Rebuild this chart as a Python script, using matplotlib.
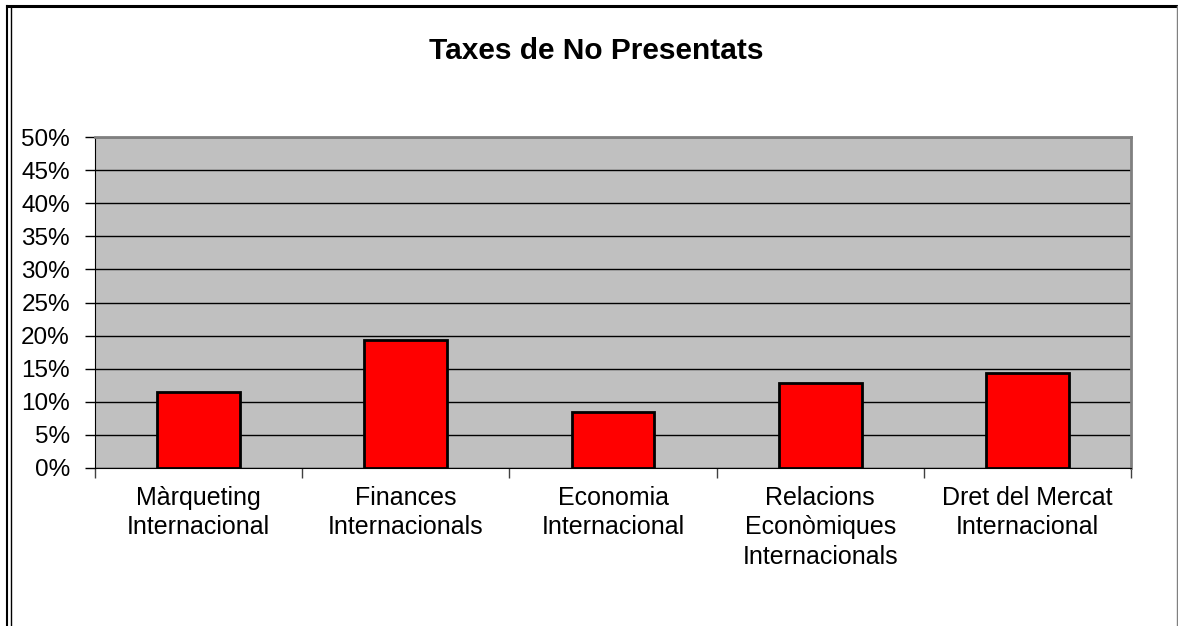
import numpy as np
import matplotlib
matplotlib.use("Agg")
import matplotlib.pyplot as plt
from matplotlib.lines import Line2D
from matplotlib.ticker import PercentFormatter

plt.rcParams['font.family'] = ['Liberation Sans', 'DejaVu Sans']

categories = ["Màrqueting\nInternacional", "Finances\nInternacionals", "Economia\nInternacional",
              "Relacions\nEconòmiques\nInternacionals", "Dret del Mercat\nInternacional"]
rates = [11.5, 19.4, 8.4, 12.9, 14.3]
yticks = np.arange(0, 51, 5)

W, H = 1178, 626
fig = plt.figure(figsize=(W / 100, H / 100), dpi=100)
ax = fig.add_axes([95 / W, 1 - 468 / H, (1131 - 95) / W, (468 - 137) / H])
ax.set_facecolor('#C0C0C0')

x = np.arange(len(categories))
ax.bar(x, rates, width=0.4, color='#FF0000', edgecolor='black', linewidth=2, zorder=3)

ax.set_xlim(-0.5, len(categories) - 0.5)
ax.set_ylim(0, 50)
ax.set_yticks(yticks)
ax.yaxis.set_major_formatter(PercentFormatter(decimals=0))
ax.yaxis.grid(True, color='black', linewidth=1)
ax.set_axisbelow(True)

ax.set_xticks(x)
ax.set_xticklabels(categories, linespacing=1.28)
ax.set_xticks(np.arange(-0.5, len(categories)), minor=True)
ax.tick_params(axis='x', which='major', length=0, pad=13, labelsize=18)
ax.tick_params(axis='x', which='minor', length=7, width=1, color='#404040', direction='out')
ax.tick_params(axis='y', length=7, width=1, direction='out', pad=11, labelsize=17.5)

for s in ['top', 'right']:
    ax.spines[s].set_color('#808080')
    ax.spines[s].set_linewidth(2)
ax.spines['left'].set_color('black')
ax.spines['bottom'].set_color('black')

fig.text(596 / W, 1 - 51 / H, "Taxes de No Presentats", ha='center', va='center',
         fontsize=21.5, fontweight='bold')

# outer chart frame
fig.add_artist(Line2D([7 / W, 1], [1 - 6 / H, 1 - 6 / H], color='black', linewidth=2.2))
fig.add_artist(Line2D([7 / W, 7 / W], [0, 1 - 6 / H], color='black', linewidth=1.5))
fig.add_artist(Line2D([10.5 / W, 10.5 / W], [0, 1 - 6 / H], color='black', linewidth=1))
fig.add_artist(Line2D([1176.5 / W, 1176.5 / W], [0, 1 - 6 / H], color='#808080', linewidth=1))

fig.savefig("out.png", dpi=100)
